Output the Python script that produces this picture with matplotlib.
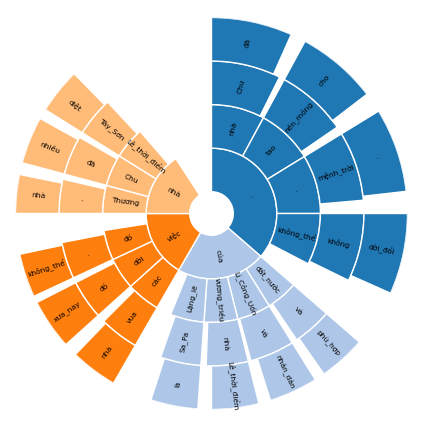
import numpy as np
import matplotlib.pyplot as plt

# word-sequence sunburst, 4 rings, angular sizes in degrees
colors = ['#1f77b4', '#aec7e8', '#ff7f0e', '#ffbb78']

l1_labels = ['.', 'của', 'việc', 'nhà']
l1_sizes = [131, 79, 60, 57]

l2_labels = ['nhà', 'tao', '.', 'không_thể',
             'đất_nước', 'Lí_Công_Uốn', 'vương_triều', 'Lặng_lẽ',
             'các', 'đời', 'đó',
             'Thương', 'Chu', 'Lê_thời_điểm']
l2_parent = [0, 0, 0, 0, 1, 1, 1, 1, 2, 2, 2, 3, 3, 3]
l2_sizes = [28.5, 30, 31.5, 27.5, 17, 18, 18, 18, 18, 17, 16, 15, 17, 17]

l3_labels = ['Chu', 'nền_móng', 'mệnh_trời', 'không',
             'và', 'và', 'nhà', 'Sa_Pa',
             'vua', 'đó', '.',
             '.', 'đã', 'Tây_Sơn']
l3_parent = list(range(14))
l3_sizes = [26.5, 27, 26.5, 26, 15, 17, 16, 15.5, 15, 15, 14, 13, 15, 15]

l4_labels = ['đã', 'cho', '.', 'dời_đổi',
             'phù_hợp', 'nhân_dân', 'Lê_thời_điểm', 'là',
             'nhà', 'xưa_nay', 'không_thể',
             'nhà', 'nhiều', 'diệt']
l4_parent = list(range(14))
l4_sizes = [24, 24, 25, 24, 14, 14.5, 14, 14, 14, 15, 13, 11.5, 14, 13.5]


def child_layout(parent_starts, parent_groups, parents, sizes):
    starts, groups = [], []
    used = {}
    for p, s in zip(parents, sizes):
        off = used.get(p, 0)
        starts.append(parent_starts[p] + off)
        groups.append(parent_groups[p])
        used[p] = off + s
    return starts, groups


s1 = list(np.cumsum([0] + l1_sizes[:-1]))
g1 = list(range(len(l1_labels)))
s2, g2 = child_layout(s1, g1, l2_parent, l2_sizes)
s3, g3 = child_layout(s2, g2, l3_parent, l3_sizes)
s4, g4 = child_layout(s3, g3, l4_parent, l4_sizes)

levels = [(l1_labels, l1_sizes, s1, g1),
          (l2_labels, l2_sizes, s2, g2),
          (l3_labels, l3_sizes, s3, g3),
          (l4_labels, l4_sizes, s4, g4)]

fig = plt.figure(figsize=(4.22, 4.23), dpi=100)
ax = fig.add_axes([15.5 / 422, 13.5 / 423, 392 / 422, 392 / 423], projection='polar')
ax.set_theta_zero_location('N')
ax.set_theta_direction(-1)

for level, (labels, sizes, starts, groups) in enumerate(levels, start=1):
    ax.bar(np.radians(starts), 1, width=np.radians(sizes), bottom=level - 0.5,
           align='edge', color=[colors[g] for g in groups],
           edgecolor='white', linewidth=1)
    for lab, s, w in zip(labels, starts, sizes):
        x = s + w / 2
        rotation = (90 + (360 - x % 180)) % 360
        ax.text(np.radians(x), level, lab, rotation=rotation,
                ha='center', va='center', fontsize=5.4)

ax.set_ylim(0, 4.5)
ax.set_axis_off()
fig.savefig('out.png', dpi=100)
